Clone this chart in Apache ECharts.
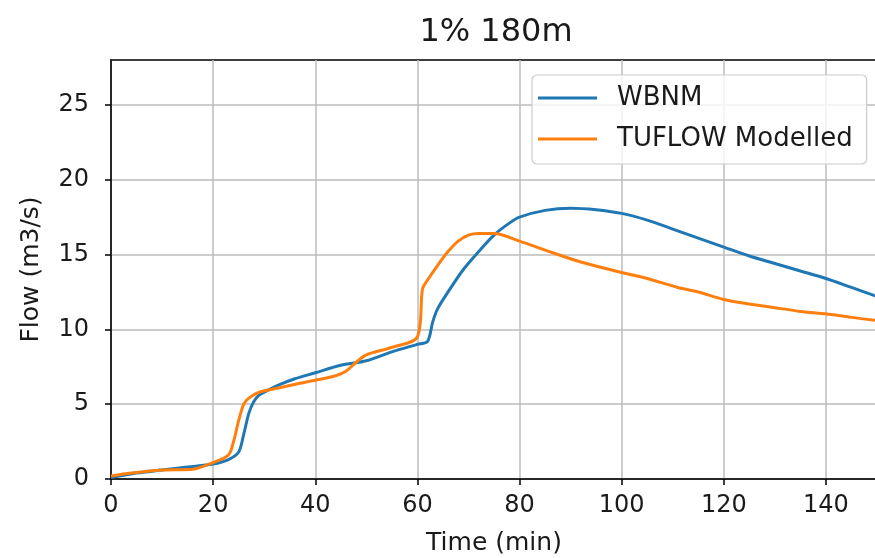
<!DOCTYPE html>
<html>
<head>
<meta charset="utf-8">
<script src="https://cdn.jsdelivr.net/npm/echarts@6/dist/echarts.min.js"></script>
<style>html,body{margin:0;padding:0;background:#fff}#c{width:875px;height:558px}</style>
</head>
<body>
<div id="c"></div>
<script>
const titleText = '1% 180m';
const seriesNames = ['WBNM', 'TUFLOW Modelled'];
const seriesColors = ['#1f77b4', '#ff7f0e'];
const xTicks = [0, 20, 40, 60, 80, 100, 120, 140];
const yTicks = [0, 5, 10, 15, 20, 25];

const wbnmTime = [0,5,10,15,20,23,25,26,27,28,29,30,33,36,40,45,50,55,60,62,63,64,66,69,72,75,78,80,85,90,95,100,105,110,115,120,125,130,135,140,145,150];
const wbnmFlow = [0.1,0.4,0.6,0.8,1.0,1.3,1.8,3.0,4.4,5.2,5.6,5.8,6.3,6.7,7.1,7.6,7.9,8.5,9.0,9.2,10.5,11.4,12.5,14.0,15.2,16.3,17.1,17.5,17.95,18.1,18.0,17.75,17.3,16.7,16.1,15.5,14.9,14.4,13.9,13.4,12.8,12.2];

const tuflowTime = [0,4,10,16,20,23,24,25,26,27,29,33,37,40,44,46,48,50,55,60,61,62,64,66,68,70,72,75,80,85,92,100,105,111,115,120,125,130,135,141,145,150];
const tuflowFlow = [0.2,0.4,0.6,0.65,1.1,1.6,2.5,3.9,5.0,5.4,5.8,6.1,6.4,6.6,6.9,7.2,7.8,8.3,8.8,9.5,12.7,13.3,14.3,15.2,15.9,16.3,16.4,16.4,15.9,15.3,14.5,13.8,13.4,12.8,12.5,12.0,11.7,11.45,11.2,11.0,10.8,10.6];

const font = 'DejaVu Sans';
const txt = '#1a1a1a';
const pair = (xs, ys) => xs.map((x, i) => [x, ys[i]]);

const chart = echarts.init(document.getElementById('c'), null, {renderer: 'canvas'});
chart.setOption({
  animation: false,
  backgroundColor: '#fff',
  title: {
    text: titleText, left: 491, textAlign: 'center', top: 12,
    textStyle: {fontFamily: font, fontSize: 32, fontWeight: 'normal', color: txt}
  },
  grid: {left: 111, right: -2, top: 60, bottom: 79, show: true, borderColor: '#000', borderWidth: 1.5,
         backgroundColor: 'transparent', outerBoundsMode: 'none', containLabel: false},
  legend: {
    orient: 'vertical', left: 532, top: 75,
    padding: [10, 14, 12, 6],
    itemWidth: 59, itemHeight: 3, itemGap: 15,
    backgroundColor: 'rgba(255,255,255,0.8)',
    borderColor: '#cccccc', borderWidth: 1.2, borderRadius: 5,
    textStyle: {fontFamily: font, fontSize: 26, color: txt, padding: [0, 0, 0, 15]},
    data: seriesNames.map((n, i) => ({name: n, icon: 'rect', itemStyle: {color: seriesColors[i]}}))
  },
  xAxis: {
    type: 'value', min: 0, max: 150, interval: 20,
    name: 'Time (min)', nameLocation: 'middle', nameGap: 52,
    nameTextStyle: {fontFamily: font, fontSize: 25, color: txt},
    axisLine: {show: true, onZero: false, lineStyle: {color: '#000', width: 1.5}},
    axisTick: {show: true, length: 6, lineStyle: {color: '#000', width: 1.5}, customValues: xTicks},
    axisLabel: {fontFamily: font, fontSize: 24, color: txt, margin: 15, customValues: xTicks},
    splitLine: {show: true, lineStyle: {color: '#bdbdbd', width: 1.5}}
  },
  yAxis: {
    type: 'value', min: 0, max: 28, interval: 5,
    name: 'Flow (m3/s)', nameLocation: 'middle', nameGap: 67,
    nameTextStyle: {fontFamily: font, fontSize: 25, color: txt},
    axisLine: {show: true, onZero: false, lineStyle: {color: '#000', width: 1.5}},
    axisTick: {show: true, length: 6, lineStyle: {color: '#000', width: 1.5}, customValues: yTicks},
    axisLabel: {fontFamily: font, fontSize: 24, color: txt, margin: 22, customValues: yTicks},
    splitLine: {show: true, lineStyle: {color: '#bdbdbd', width: 1.5}}
  },
  series: [
    {name: seriesNames[0], type: 'line', data: pair(wbnmTime, wbnmFlow), symbol: 'none', smooth: 0.3,
     lineStyle: {color: seriesColors[0], width: 3}, itemStyle: {color: seriesColors[0]}, z: 3},
    {name: seriesNames[1], type: 'line', data: pair(tuflowTime, tuflowFlow), symbol: 'none', smooth: 0.3,
     lineStyle: {color: seriesColors[1], width: 3}, itemStyle: {color: seriesColors[1]}, z: 4}
  ]
});
</script>
</body>
</html>
